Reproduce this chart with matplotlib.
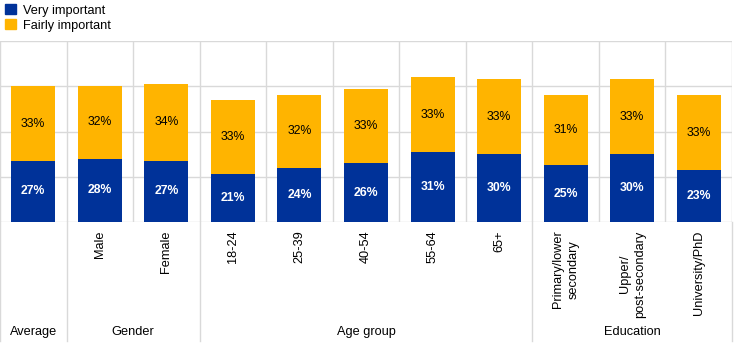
import matplotlib.pyplot as plt
from matplotlib.patches import Patch

plt.rcParams['font.family'] = ['Liberation Sans', 'DejaVu Sans']

categories = ['', 'Male', 'Female', '18-24', '25-39', '40-54', '55-64', '65+',
              'Primary/lower\nsecondary', 'Upper/\npost-secondary', 'University/PhD']
very_important = [27, 28, 27, 21, 24, 26, 31, 30, 25, 30, 23]
fairly_important = [33, 32, 34, 33, 32, 33, 33, 33, 31, 33, 33]
groups = [('Average', 0, 1), ('Gender', 1, 3), ('Age group', 3, 8), ('Education', 8, 11)]

BLUE = '#003299'
YELLOW = '#FFB400'
GRID = '#d9d9d9'

fig = plt.figure(figsize=(7.44, 3.44), dpi=100)
ax = fig.add_axes([0.0, 122 / 344, 732 / 744, 181 / 344])

x = list(range(len(categories)))
ax.bar(x, very_important, width=0.66, color=BLUE, zorder=3)
ax.bar(x, fairly_important, width=0.66, bottom=very_important, color=YELLOW, zorder=3)

for i, (v, f) in enumerate(zip(very_important, fairly_important)):
    ax.text(i, v / 2, f'{v}%', ha='center', va='center', color='white',
            fontsize=8.8, fontweight='bold', zorder=4)
    ax.text(i, v + f / 2, f'{f}%', ha='center', va='center', color='black',
            fontsize=8.8, zorder=4)

ax.set_xlim(-0.5, len(categories) - 0.5)
ax.set_ylim(0, 80)
ax.set_yticks([0, 20, 40, 60, 80])
ax.set_yticklabels([])
ax.tick_params(axis='y', length=0)
ax.grid(axis='y', color=GRID, linewidth=1, zorder=0)

# vertical lines between every category inside the plot
for b in range(len(categories) + 1):
    ax.axvline(b - 0.5, color=GRID, linewidth=1, zorder=0)

for s in ax.spines.values():
    s.set_visible(False)

ax.set_xticks(x)
ax.set_xticklabels(categories, rotation=90, va='top', ha='center', fontsize=9.2,
                   multialignment='center', linespacing=1.35)
ax.tick_params(axis='x', length=0, pad=6)

# group separators and group names below the axis
trans = ax.get_xaxis_transform()
bounds = sorted({g[1] for g in groups} | {g[2] for g in groups})
for b in bounds:
    ax.plot([b - 0.5, b - 0.5], [0, -0.66], transform=trans, color=GRID,
            linewidth=1, clip_on=False, zorder=0)
for name, start, end in groups:
    ax.text((start + end - 1) / 2, -0.605, name, transform=trans, ha='center',
            va='center', fontsize=9.2)

handles = [Patch(color=BLUE, label='Very important'),
           Patch(color=YELLOW, label='Fairly important')]
fig.legend(handles=handles, loc='upper left', bbox_to_anchor=(-0.004, 1.01),
           frameon=False, fontsize=9.2, handlelength=0.85, handleheight=0.85,
           handletextpad=0.6, labelspacing=0.2, borderaxespad=0.2)

fig.savefig('out.png', dpi=100)
